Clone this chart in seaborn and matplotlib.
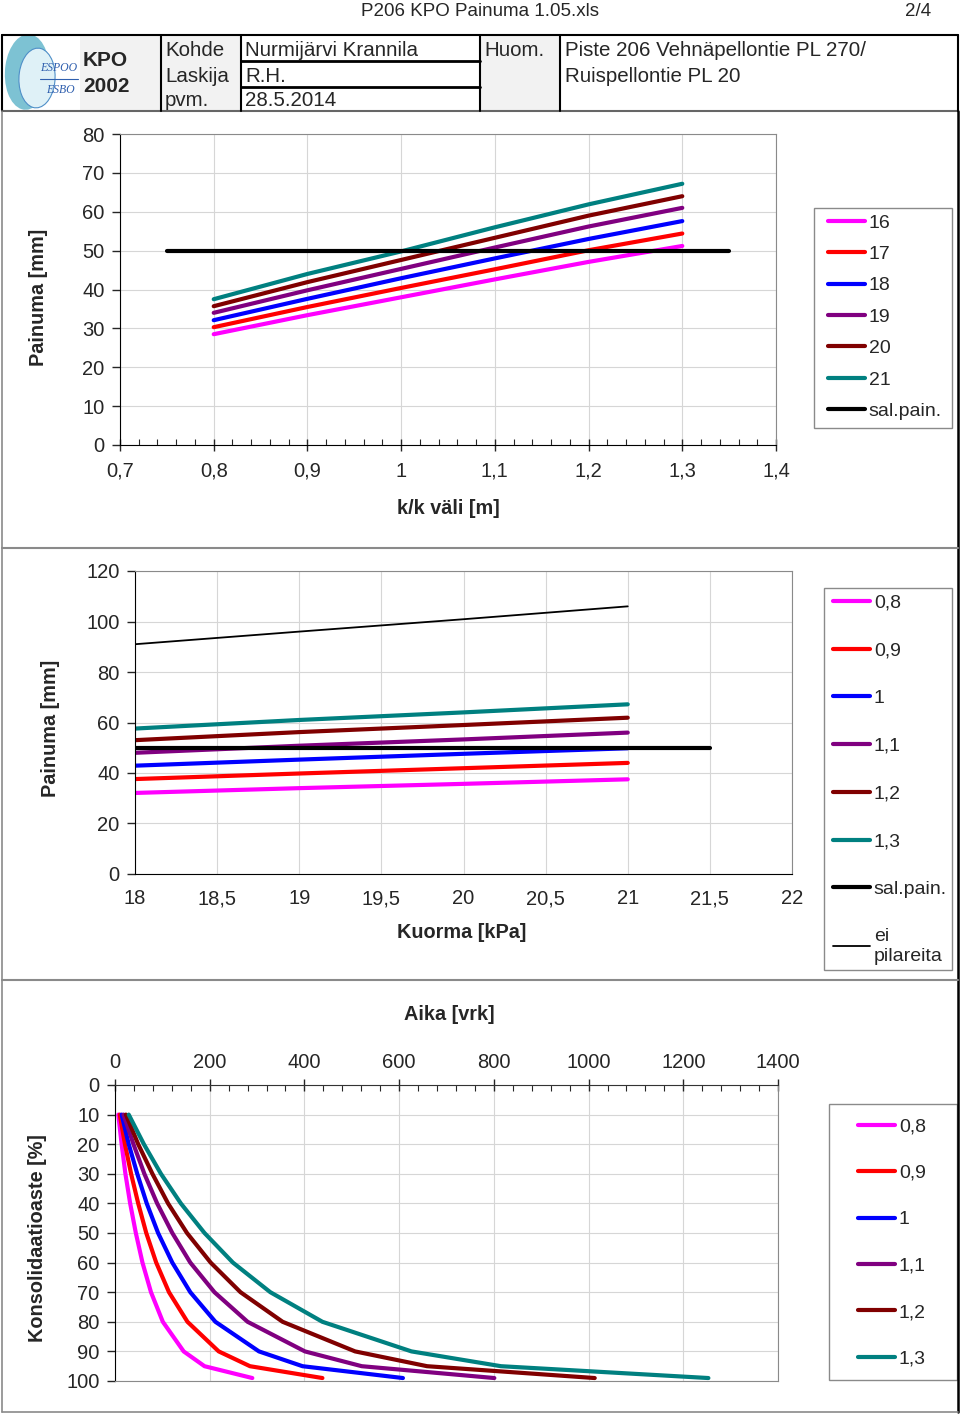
import numpy as np
import pandas as pd
import matplotlib
matplotlib.use('Agg')
import matplotlib.pyplot as plt
import seaborn as sns
from matplotlib.lines import Line2D
from matplotlib.patches import Rectangle, Ellipse
from matplotlib.ticker import MultipleLocator

# --- data read from the sheet ---
kk_values = [0.8, 0.9, 1.0, 1.1, 1.2, 1.3]            # k/k väli [m]
kk_names = ['0,8', '0,9', '1', '1,1', '1,2', '1,3']
loads = ['16', '17', '18', '19', '20', '21']          # kuorma [kPa]

# painuma [mm] for each load, at k/k 0.8 ... 1.3
painuma_16 = [28.5, 33.4, 38.0, 42.6, 47.1, 51.2]
painuma_17 = [30.3, 35.5, 40.4, 45.2, 50.1, 54.4]
painuma_18 = [32.1, 37.6, 42.9, 48.0, 53.0, 57.6]
painuma_19 = [34.0, 39.8, 45.3, 50.8, 56.2, 61.0]
painuma_20 = [35.7, 41.9, 47.6, 53.3, 59.0, 64.0]
painuma_21 = [37.5, 44.0, 49.8, 56.0, 61.9, 67.2]

sal_pain = [50, 50]
sal_pain_kk = [0.75, 1.35]
sal_pain_kuorma = [18, 21.5]

kuorma_x = [18, 19, 20, 21]
ei_pilareita = [91.0, 96.0, 100.9, 106.0]

# consolidation [%] vs time [vrk] for each k/k
konsolidaatio = [10, 20, 30, 40, 50, 60, 70, 80, 90, 95, 99]
aika_08 = [7, 14, 22, 32, 44, 58, 76, 101, 145, 189, 290]
aika_09 = [10, 21, 34, 49, 66, 87, 114, 153, 219, 285, 438]
aika_10 = [14, 29, 47, 67, 91, 121, 159, 212, 304, 396, 608]
aika_11 = [18, 39, 62, 89, 121, 159, 210, 280, 401, 521, 801]
aika_12 = [23, 49, 79, 112, 152, 202, 265, 354, 507, 659, 1013]
aika_13 = [29, 61, 97, 139, 189, 249, 328, 438, 626, 815, 1253]

kk_ticks = [0.7, 0.8, 0.9, 1.0, 1.1, 1.2, 1.3, 1.4]
kk_tick_labels = ['0,7', '0,8', '0,9', '1', '1,1', '1,2', '1,3', '1,4']
kuorma_ticks = [18, 18.5, 19, 19.5, 20, 20.5, 21, 21.5, 22]
kuorma_tick_labels = ['18', '18,5', '19', '19,5', '20', '20,5', '21', '21,5', '22']

colors = ['#ff00ff', '#ff0000', '#0000ff', '#800080', '#800000', '#008080']

# --- long tables ---
painuma_all = [painuma_16, painuma_17, painuma_18, painuma_19, painuma_20, painuma_21]
df1 = pd.DataFrame([(ld, k, p) for ld, row in zip(loads, painuma_all)
                    for k, p in zip(kk_values, row)],
                   columns=['kuorma', 'kk', 'painuma'])

df2 = pd.DataFrame([(kk_names[i], q, row[i]) for i in range(len(kk_values))
                    for q, row in zip(kuorma_x, painuma_all[2:])],
                   columns=['kk', 'kuorma', 'painuma'])

aika_all = [aika_08, aika_09, aika_10, aika_11, aika_12, aika_13]
df3 = pd.DataFrame([(nm, t, u) for nm, row in zip(kk_names, aika_all)
                    for t, u in zip(row, konsolidaatio)],
                   columns=['kk', 'aika', 'U'])

# --- style ---
sns.set_style('white')
plt.rcParams['font.family'] = ['Liberation Sans', 'DejaVu Sans']
FS = 14.5      # tick labels
FS_LAB = 14.3  # axis titles
FS_LEG = 14
FS_HEAD = 14.8
GRID = '#d6d6d6'
FRAME = '#8a8a8a'

W, H = 960, 1416
fig = plt.figure(figsize=(W / 100, H / 100), dpi=100)


def fx(x):
    return x / W


def fy(y):
    return 1 - y / H


def box(x0, y0, x1, y1):
    return [fx(x0), fy(y1), (x1 - x0) / W, (y1 - y0) / H]


def hline(x0, x1, y, color='black', lw=1.2):
    fig.add_artist(Line2D([fx(x0), fx(x1)], [fy(y), fy(y)], transform=fig.transFigure,
                          color=color, lw=lw))


def vline(x, y0, y1, color='black', lw=1.2):
    fig.add_artist(Line2D([fx(x), fx(x)], [fy(y0), fy(y1)], transform=fig.transFigure,
                          color=color, lw=lw))


def text(x, y, s, **kw):
    kw.setdefault('fontsize', FS_LAB)
    kw.setdefault('va', 'center')
    fig.text(fx(x), fy(y), s, **kw)


def style_axes(ax):
    ax.grid(True, color=GRID, lw=0.8)
    ax.set_axisbelow(True)
    for side in ['top', 'right']:
        ax.spines[side].set_color(FRAME)
    for side in ['left', 'bottom']:
        ax.spines[side].set_color('black')
    ax.tick_params(axis='y', left=True, direction='out', length=6, width=1,
                   labelsize=FS, pad=5)
    ax.set_xlabel('')
    ax.set_ylabel('')


def make_legend(ax, labels, widths, frame_box, anchor, spacing):
    # frame drawn separately (behind the axes) so its size matches the sheet
    x0, y0, x1, y1 = frame_box
    fig.add_artist(Rectangle((fx(x0), fy(y1)), (x1 - x0) / W, (y1 - y0) / H,
                             transform=fig.transFigure, facecolor='none',
                             edgecolor=FRAME, lw=1.0, zorder=-1))
    handles = [Line2D([], [], color=c, lw=w) for c, w in zip(colors + ['black', 'black'], widths)]
    leg = ax.legend(handles, labels, loc='upper left',
                    bbox_to_anchor=(fx(anchor[0]), fy(anchor[1])),
                    bbox_transform=fig.transFigure, borderaxespad=0, borderpad=0,
                    fontsize=FS_LEG, frameon=False, handlelength=1.9,
                    handletextpad=0.2, labelspacing=spacing)
    return leg


# --- page header ---
text(480, 11, 'P206 KPO Painuma 1.05.xls', ha='center', fontsize=13.5)
text(918, 11, '2/4', ha='center', fontsize=13.5)

fig.add_artist(Rectangle((fx(80), fy(111)), (958 - 80) / W, 76 / H, transform=fig.transFigure,
                         facecolor='#f2f2f2', edgecolor='none'))
fig.add_artist(Rectangle((fx(241), fy(111)), (480 - 241) / W, 76 / H, transform=fig.transFigure,
                         facecolor='white', edgecolor='none'))
fig.add_artist(Rectangle((fx(560), fy(111)), (958 - 560) / W, 76 / H, transform=fig.transFigure,
                         facecolor='white', edgecolor='none'))
hline(2, 958, 35, lw=1.5)
hline(2, 958, 111, color='#666666', lw=1.5)
vline(2, 35, 111, lw=1.5)
vline(958, 35, 111, lw=1.5)
for xv in [161, 241, 480, 560]:
    vline(xv, 35, 111, lw=1.5)
hline(241, 480, 61, lw=2)
hline(241, 480, 87, lw=2)

# logo
fig.add_artist(Ellipse((fx(27), fy(72)), 44 / W, 76 / H, angle=-12, transform=fig.transFigure,
                       facecolor='#6fbccf', edgecolor='none', alpha=0.9))
fig.add_artist(Ellipse((fx(37), fy(78)), 36 / W, 60 / H, angle=-12, transform=fig.transFigure,
                       facecolor='#dff1f7', edgecolor='#4f8fc8', lw=0.8))
text(59, 68, 'ESPOO', ha='center', fontsize=8.5, family='Liberation Serif',
     style='italic', color='#2f5fae')
hline(40, 78, 79, color='#2f5fae', lw=0.8)
text(60, 90, 'ESBO', ha='center', fontsize=8.5, family='Liberation Serif',
     style='italic', color='#2f5fae')

text(83, 61, 'KPO', fontweight='bold', fontsize=15)
text(83, 87, '2002', fontweight='bold', fontsize=15)
text(165, 50, 'Kohde', fontsize=FS_HEAD)
text(165, 76, 'Laskija', fontsize=FS_HEAD)
text(165, 101, 'pvm.', fontsize=FS_HEAD)
text(245, 50, 'Nurmijärvi Krannila', fontsize=FS_HEAD)
text(245, 76, 'R.H.', fontsize=FS_HEAD)
text(245, 101, '28.5.2014', fontsize=FS_HEAD)
text(484, 50, 'Huom.', fontsize=FS_HEAD)
text(565, 50, 'Piste 206 Vehnäpellontie PL 270/', fontsize=FS_HEAD)
text(565, 76, 'Ruispellontie PL 20', fontsize=FS_HEAD)

# page frame and section separators
vline(2, 111, 1412, color=FRAME, lw=1.2)
vline(958, 111, 1412, color='black', lw=1.8)
hline(2, 958, 548, color=FRAME, lw=1.5)
hline(2, 958, 980, color=FRAME, lw=1.5)
hline(2, 958, 1412, color=FRAME, lw=1.2)

# --- chart 1: painuma vs k/k ---
ax1 = fig.add_axes(box(120, 134, 776, 445))
sns.lineplot(data=df1, x='kk', y='painuma', hue='kuorma', hue_order=loads,
             palette=dict(zip(loads, colors)), lw=3, sort=False, estimator=None,
             legend=False, ax=ax1)
sns.lineplot(x=sal_pain_kk, y=sal_pain, color='black', lw=3, ax=ax1)
ax1.set_xlim(0.7, 1.4)
ax1.set_ylim(0, 80)
ax1.set_xticks(kk_ticks)
ax1.set_xticklabels(kk_tick_labels)
ax1.set_yticks(range(0, 81, 10))
ax1.xaxis.set_minor_locator(MultipleLocator(0.02))
style_axes(ax1)
ax1.tick_params(axis='x', which='major', bottom=True, direction='inout', length=8, width=1,
                labelsize=FS, pad=8)
ax1.tick_params(axis='x', which='minor', bottom=True, direction='in', length=4, width=0.8)
ax1.grid(False, which='minor')
text(38, 297, 'Painuma [mm]', ha='center', rotation=90, fontweight='bold')
text(448, 509, 'k/k väli [m]', ha='center', fontweight='bold')
make_legend(ax1, loads + ['sal.pain.'], [3] * 7, (814, 208, 952, 428), (828, 214), 0.71)

# --- chart 2: painuma vs kuorma ---
ax2 = fig.add_axes(box(135, 571, 792, 874))
sns.lineplot(data=df2, x='kuorma', y='painuma', hue='kk', hue_order=kk_names,
             palette=dict(zip(kk_names, colors)), lw=3, sort=False, estimator=None,
             legend=False, ax=ax2)
sns.lineplot(x=sal_pain_kuorma, y=sal_pain, color='black', lw=3, ax=ax2)
sns.lineplot(x=kuorma_x, y=ei_pilareita, color='black', lw=1.3, ax=ax2)
ax2.set_xlim(18, 22)
ax2.set_ylim(0, 120)
ax2.set_xticks(kuorma_ticks)
ax2.set_xticklabels(kuorma_tick_labels)
ax2.set_yticks(range(0, 121, 20))
style_axes(ax2)
ax2.tick_params(axis='x', bottom=True, direction='out', length=0, labelsize=FS, pad=11)
text(50, 728, 'Painuma [mm]', ha='center', rotation=90, fontweight='bold')
text(462, 933, 'Kuorma [kPa]', ha='center', fontweight='bold')
make_legend(ax2, kk_names + ['sal.pain.', 'ei\npilareita'], [3] * 7 + [1.3],
            (824, 588, 952, 970), (833, 594), 1.55)

# --- chart 3: konsolidaatioaste vs aika ---
ax3 = fig.add_axes(box(115, 1085, 778, 1381))
sns.lineplot(data=df3, x='aika', y='U', hue='kk', hue_order=kk_names,
             palette=dict(zip(kk_names, colors)), lw=3, sort=False, estimator=None,
             legend=False, ax=ax3)
ax3.set_xlim(0, 1400)
ax3.set_ylim(100, 0)
ax3.set_xticks(range(0, 1401, 200))
ax3.set_yticks(range(0, 101, 10))
ax3.xaxis.set_minor_locator(MultipleLocator(40))
style_axes(ax3)
ax3.xaxis.tick_top()
ax3.spines['top'].set_color('#333333')
ax3.spines['bottom'].set_color(FRAME)
ax3.tick_params(axis='x', which='major', top=True, bottom=False, direction='inout', length=9,
                width=1, labelsize=FS, pad=5)
ax3.tick_params(axis='x', which='minor', top=True, bottom=False, direction='in', length=4,
                width=0.8)
ax3.grid(False, which='minor')
text(38, 1238, 'Konsolidaatioaste [%]', ha='center', rotation=90, fontweight='bold')
text(449, 1015, 'Aika [vrk]', ha='center', fontweight='bold')
make_legend(ax3, kk_names, [3] * 6, (829, 1104, 957, 1380), (858, 1118), 1.48)

fig.savefig('out.png', dpi=100, facecolor='white')
